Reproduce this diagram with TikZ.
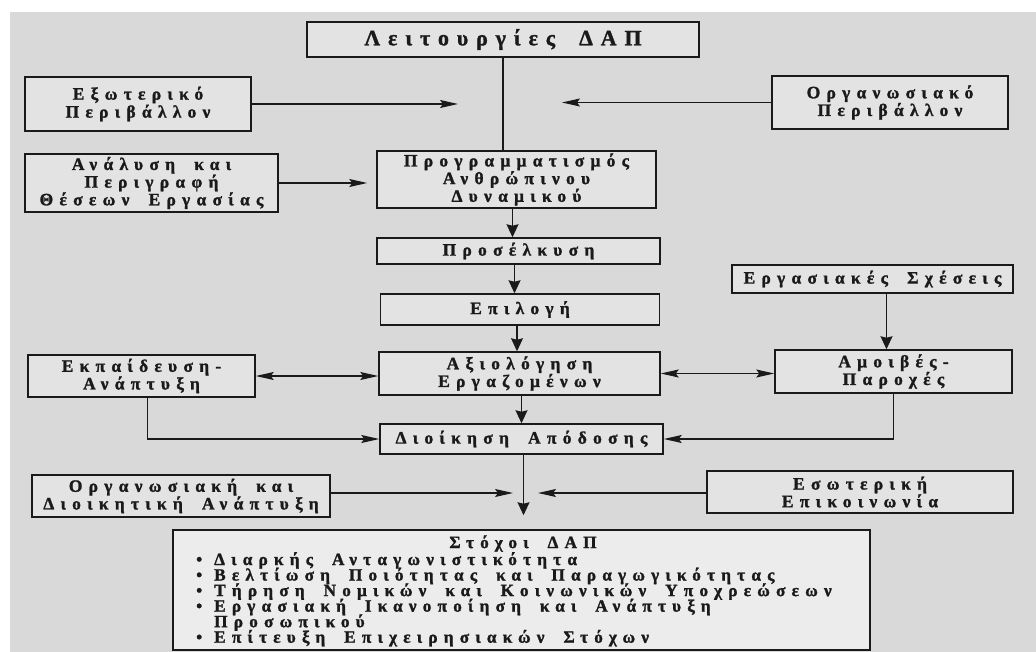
\documentclass[tikz,border=0pt]{standalone}
\usepackage{fontspec}
\setmainfont{Liberation Serif}[LetterSpace=36, WordSpace=1.8, BoldFeatures={FakeBold=1.4}]
\usetikzlibrary{arrows.meta}
\definecolor{paper}{HTML}{D9D9D9}
\definecolor{boxfill}{HTML}{E3E3E3}
\definecolor{goalfill}{HTML}{ECECEC}
\definecolor{ink}{HTML}{1A1A1A}
% fixed line pitch for the list of goals
\newcommand\tightlines{\lineskiplimit-100pt\relax\lineskip0pt\relax}
\tikzset{
  box/.style={draw=ink, line width=1.5bp, fill=boxfill, inner sep=0pt,
    align=center, text=ink, font=\fontsize{17.5}{16}\selectfont\bfseries},
  goaltext/.style={text=ink, inner sep=0pt,
    font=\fontsize{17.3}{15.6}\selectfont\bfseries\tightlines},
  flow/.style={draw=ink, line width=1.2bp},
  sidearrow/.style={flow, -{Stealth[length=18bp,width=8bp,inset=3bp]}},
  twoway/.style={flow, {Stealth[length=18bp,width=8bp,inset=3bp]}-{Stealth[length=18bp,width=8bp,inset=3bp]}},
  downarrow/.style={flow, -{Stealth[length=13bp,width=12bp,inset=1.5bp]}},
}
\begin{document}
\begin{tikzpicture}[x=1bp,y=-1bp]
\useasboundingbox (0,0) rectangle (1036,652);
\fill[white] (0,0) rectangle (1036,652);
\fill[paper] (10,12) rectangle (1036,652);

% central chain
\node[box, minimum width=392bp, minimum height=35bp,
      font=\fontsize{22}{22}\selectfont\bfseries] (title) at (503,39.5) {Λειτουργίες ΔΑΠ};
\node[box, minimum width=279bp, minimum height=57bp] (prog) at (516.5,179.5)
  {Προγραμματισμός\\Ανθρώπινου\\Δυναμικού};
\node[box, minimum width=283bp, minimum height=26bp] (pros) at (518.5,251) {Προσέλκυση};
\node[box, minimum width=279bp, minimum height=31bp] (epil) at (520,309.5) {Επιλογή};
\node[box, minimum width=281bp, minimum height=43bp] (axi) at (519.5,373.5)
  {Αξιολόγηση\\Εργαζομένων};
\node[box, minimum width=283bp, minimum height=30bp] (dioik) at (521.5,439) {Διοίκηση Απόδοσης};

% side boxes
\node[box, minimum width=226bp, minimum height=54bp,
      font=\fontsize{17.5}{18}\selectfont\bfseries] (ext) at (138,104) {Εξωτερικό\\Περιβάλλον};
\node[box, minimum width=236bp, minimum height=53bp] (org) at (890,102.5) {Οργανωσιακό\\Περιβάλλον};
\node[box, minimum width=253bp, minimum height=58bp] (anal) at (151.5,183)
  {Ανάλυση και\\Περιγραφή\\Θέσεων Εργασίας};
\node[box, minimum width=227bp, minimum height=42bp] (ekp) at (141.5,376) {Εκπαίδευση-\\Ανάπτυξη};
\node[box, minimum width=281bp, minimum height=28bp] (ergs) at (872.5,279) {Εργασιακές Σχέσεις};
\node[box, minimum width=237bp, minimum height=43bp] (amoib) at (893.5,371.5) {Αμοιβές-\\Παροχές};
\node[box, minimum width=298bp, minimum height=42bp] (odd) at (181,496)
  {Οργανωσιακή και\\Διοικητική Ανάπτυξη};
\node[box, minimum width=306bp, minimum height=42bp] (esot) at (860,492) {Εσωτερική\\Επικοινωνία};

% goals box
\node[box, fill=goalfill, minimum width=697bp, minimum height=120bp] (goals) at (521.5,590) {};
\node[goaltext] (goalhead) at (523,543.5) {Στόχοι ΔΑΠ};
\node[goaltext, anchor=north west, align=left] (goallist) at (196,552)
  {\makebox[18bp][l]{•}Διαρκής Ανταγωνιστικότητα\\
   \makebox[18bp][l]{•}Βελτίωση Ποιότητας και Παραγωγικότητας\\
   \makebox[18bp][l]{•}Τήρηση Νομικών και Κοινωνικών Υποχρεώσεων\\
   \makebox[18bp][l]{•}Εργασιακή Ικανοποίηση και Ανάπτυξη\\
   \hspace*{18bp}Προσωπικού\\
   \makebox[18bp][l]{•}Επίτευξη Επιχειρησιακών Στόχων};

% free ends of the side arrows
\coordinate (extTip) at (458,0);
\coordinate (orgTip) at (562,0);
\coordinate (oddTip) at (513,0);
\coordinate (esotTip) at (538,0);

% connectors
\draw[flow] (title.south) -- (title.south |- prog.north);
\draw[sidearrow] (ext.east) -- (ext.east -| extTip);
\draw[sidearrow] (org.west) -- (org.west -| orgTip);
\draw[sidearrow] (anal.east) -- ([xshift=-9bp]anal.east -| prog.west);
\draw[downarrow] ([xshift=-4bp]prog.south) -- ([xshift=-4bp]prog.south |- pros.north);
\draw[downarrow] ([xshift=-4bp]pros.south) -- ([xshift=-4bp]pros.south |- epil.north);
\draw[downarrow] ([xshift=-3bp]epil.south) -- ([xshift=-3bp]epil.south |- axi.north);
\draw[downarrow] ([xshift=2bp]axi.south) -- ([xshift=2bp]axi.south |- dioik.north);
\draw[twoway] (ekp.east) -- (ekp.east -| axi.west);
\draw[twoway] (axi.east) -- (axi.east -| amoib.west);
\draw[downarrow] ([xshift=14bp]ergs.south) -- ([xshift=14bp]ergs.south |- amoib.north);
\draw[sidearrow] ([xshift=6bp]ekp.south) |- (dioik.west);
\draw[sidearrow] (amoib.south) |- (dioik.east);
\draw[sidearrow] ([yshift=3bp]odd.east) -- ([yshift=3bp]odd.east -| oddTip);
\draw[sidearrow] ([yshift=-1bp]esot.west) -- ([yshift=-1bp]esot.west -| esotTip);
\draw[downarrow] ([xshift=2bp]dioik.south) -- ([xshift=2bp,yshift=14bp]dioik.south |- goals.north);
\end{tikzpicture}
\end{document}
